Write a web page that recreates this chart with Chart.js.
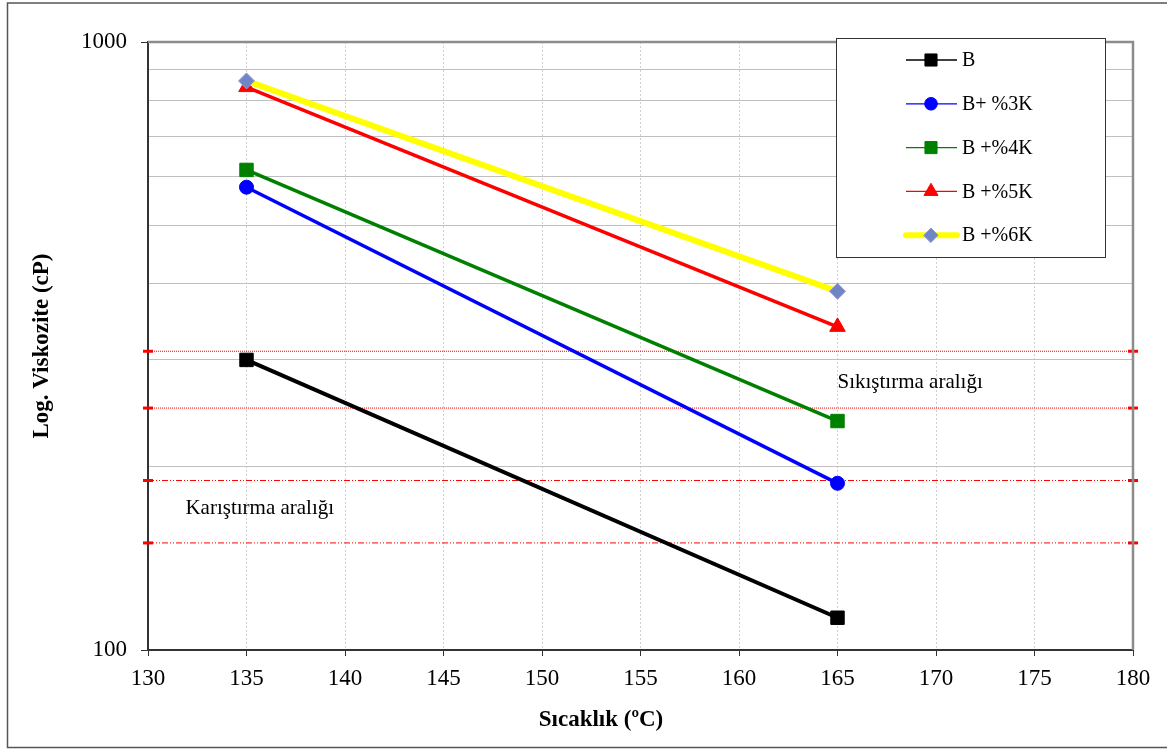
<!DOCTYPE html>
<html>
<head>
<meta charset="utf-8">
<script src="https://cdn.jsdelivr.net/npm/chart.js@4/dist/chart.umd.min.js"></script>
<style>
  html, body { margin: 0; padding: 0; background: #fff; }
</style>
</head>
<body>
<canvas id="chart" width="1167" height="749"></canvas>
<script>
// data
var temps = [135, 165];
var seriesNames = ["B", "B+ %3K", "B +%4K", "B +%5K", "B +%6K"];
var valB  = [300, 113];
var valB3 = [577, 188];
var valB4 = [616, 238];
var valB5 = [843, 340];
var valB6 = [863, 389];

// limit lines (x from axis min to max)
var limitX = [130, 180];
var compactLimits = [310, 250];
var mixLimits = [190, 150];

var xTicks = [130, 135, 140, 145, 150, 155, 160, 165, 170, 175, 180];
var yTicks = [100, 200, 300, 400, 500, 600, 700, 800, 900, 1000];
var yLabelled = [100, 1000];

var serif = "'Liberation Serif', 'Times New Roman', serif";

function pts(xs, ys) {
  return xs.map(function (x, i) { return { x: x, y: ys[i] }; });
}

var series = [
  { label: seriesNames[0], data: pts(temps, valB),  color: "#000000", bg: "#000000", pbc: "#000000", width: 4,   style: "rect",     r: 9.5, order: 4 },
  { label: seriesNames[1], data: pts(temps, valB3), color: "#0000ff", bg: "#0000ff", pbc: "#0000ff", width: 3.5, style: "circle",   r: 7,   order: 3 },
  { label: seriesNames[2], data: pts(temps, valB4), color: "#008000", bg: "#008000", pbc: "#008000", width: 3.5, style: "rect",     r: 9.5, order: 2 },
  { label: seriesNames[3], data: pts(temps, valB5), color: "#ff0000", bg: "#ff0000", pbc: "#ff0000", width: 3.5, style: "triangle", r: 9,   order: 1 },
  { label: seriesNames[4], data: pts(temps, valB6), color: "#ffff00", bg: "#6f86c6", pbc: "#9a9acb", width: 6,   style: "rectRot",  r: 8,   order: 0 }
];

var datasets = series.map(function (s) {
  return {
    label: s.label,
    data: s.data,
    borderColor: s.color,
    backgroundColor: s.bg,
    borderWidth: s.width,
    pointStyle: s.style,
    pointRadius: s.r,
    pointBackgroundColor: s.bg,
    pointBorderColor: s.pbc,
    pointBorderWidth: 1,
    order: s.order,
    clip: 12
  };
});

function limitSet(v, dash) {
  return {
    label: "limit",
    data: pts(limitX, [v, v]),
    borderColor: "#ff0000",
    borderWidth: 1,
    borderDash: dash,
    pointStyle: "line",
    pointRadius: 5,
    pointBorderColor: "#ff0000",
    pointBorderWidth: 3,
    order: 10,
    clip: 12
  };
}
compactLimits.forEach(function (v) { datasets.push(limitSet(v, [1, 1])); });
mixLimits.forEach(function (v) { datasets.push(limitSet(v, [6, 2, 1, 2, 1, 2])); });

// annotation texts and frames, plus a legend box inside the plot
var extras = {
  id: "extras",
  afterDatasetsDraw: function (chart) {
    var ctx = chart.ctx, x = chart.scales.x, y = chart.scales.y;
    ctx.save();
    ctx.font = "21px " + serif;
    ctx.fillStyle = "#000";
    ctx.textBaseline = "middle";
    ctx.textAlign = "left";
    ctx.fillText("Sıkıştırma aralığı", x.getPixelForValue(165), y.getPixelForValue(275));
    ctx.fillText("Karıştırma aralığı", x.getPixelForValue(131.9), y.getPixelForValue(171));
    ctx.restore();
  },
  afterDraw: function (chart) {
    var ctx = chart.ctx, a = chart.chartArea;
    ctx.save();
    // plot top/right border
    ctx.strokeStyle = "#8c8c8c";
    ctx.lineWidth = 2.5;
    ctx.beginPath();
    ctx.moveTo(a.left, a.top);
    ctx.lineTo(a.right, a.top);
    ctx.lineTo(a.right, a.bottom);
    ctx.stroke();
    // outer frame
    ctx.strokeStyle = "#555";
    ctx.lineWidth = 1.5;
    ctx.strokeRect(7.5, 3, 1165, 744.5);

    // x axis title (sits left of centre in the original)
    ctx.font = "bold 23px " + serif;
    ctx.fillStyle = "#000";
    ctx.textAlign = "center";
    ctx.textBaseline = "middle";
    ctx.fillText("Sıcaklık (ºC)", 601, 720);

    // legend
    var lx = 836, ly = 38, lw = 269, lh = 219;
    ctx.fillStyle = "#fff";
    ctx.fillRect(lx, ly, lw, lh);
    ctx.strokeStyle = "#333";
    ctx.lineWidth = 1;
    ctx.strokeRect(lx + 0.5, ly + 0.5, lw, lh);
    ctx.font = "20px " + serif;
    ctx.textBaseline = "middle";
    ctx.textAlign = "left";
    series.forEach(function (s, i) {
      var cy = 60 + i * 43.8;
      ctx.strokeStyle = s.color;
      ctx.lineWidth = s.style === "rectRot" ? 6 : 1.3;
      ctx.lineCap = s.style === "rectRot" ? "round" : "butt";
      ctx.beginPath();
      ctx.moveTo(906, cy);
      ctx.lineTo(957, cy);
      ctx.stroke();
      ctx.fillStyle = s.bg;
      ctx.strokeStyle = s.pbc;
      ctx.lineWidth = 1;
      Chart.helpers.drawPoint(ctx, { pointStyle: s.style, radius: s.r * 0.9, rotation: 0, borderWidth: 1 }, 931, cy);
      ctx.fillStyle = "#000";
      ctx.fillText(s.label, 962, cy + 1);
    });
    ctx.restore();
  }
};

new Chart(document.getElementById("chart"), {
  type: "line",
  data: { datasets: datasets },
  plugins: [extras],
  options: {
    responsive: false,
    animation: false,
    layout: { padding: { top: 42, right: 34, left: 0, bottom: 0 } },
    plugins: {
      legend: { display: false },
      tooltip: { enabled: false }
    },
    scales: {
      x: {
        type: "linear",
        min: 130,
        max: 180,
        afterBuildTicks: function (scale) {
          scale.ticks = xTicks.map(function (v) { return { value: v }; });
        },
        afterFit: function (scale) { scale.height = 99; },
        ticks: {
          color: "#000",
          font: { family: serif, size: 23 },
          padding: 9
        },
        grid: {
          color: "#d0d0d0",
          lineWidth: 1,
          tickLength: 6,
          tickColor: "#333"
        },
        border: { display: true, color: "#333", width: 2, dash: [2, 2] },
        title: { display: false }
      },
      y: {
        type: "logarithmic",
        min: 100,
        max: 1000,
        afterBuildTicks: function (scale) {
          scale.ticks = yTicks.map(function (v) { return { value: v, major: yLabelled.indexOf(v) >= 0 }; });
        },
        afterFit: function (scale) { scale.width = 148; },
        ticks: {
          autoSkip: false,
          color: "#000",
          font: { family: serif, size: 23 },
          padding: 14,
          callback: function (v) {
            return yLabelled.indexOf(v) >= 0 ? String(v) : "";
          }
        },
        grid: {
          color: "#c0c0c0",
          lineWidth: 1,
          tickLength: 7,
          tickColor: function (c) {
            return c.tick && yLabelled.indexOf(c.tick.value) >= 0 ? "#333" : "rgba(0,0,0,0)";
          }
        },
        border: { display: true, color: "#333", width: 2 },
        title: {
          display: true,
          text: "Log. Viskozite (cP)",
          color: "#000",
          font: { family: serif, size: 23, weight: "bold" },
          padding: { top: 28, bottom: 0 }
        }
      }
    }
  }
});
</script>
</body>
</html>
